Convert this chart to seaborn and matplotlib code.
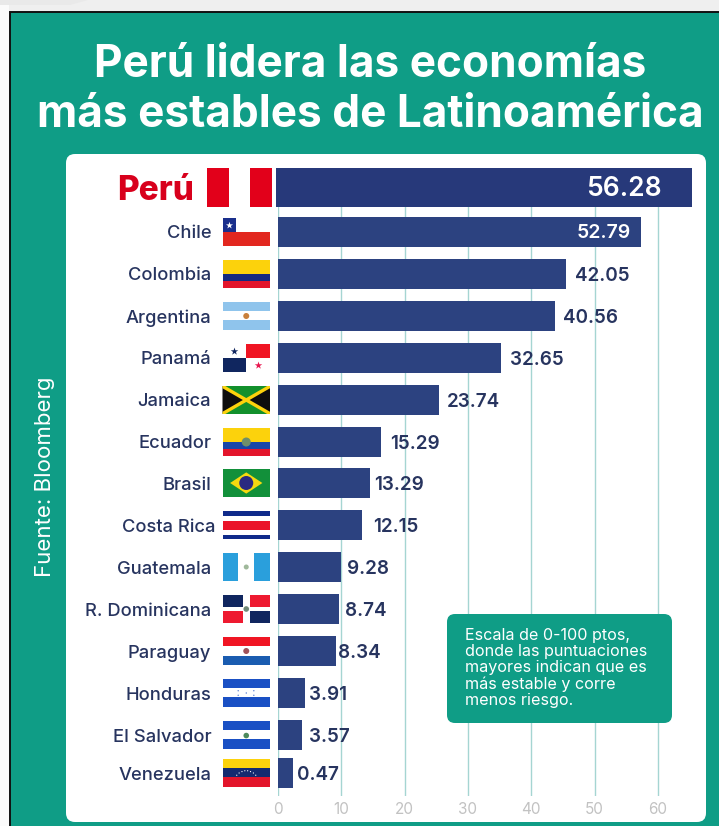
import matplotlib
matplotlib.use("Agg")
import matplotlib.pyplot as plt
import matplotlib.transforms as mtrans
from matplotlib.patches import Rectangle, Polygon, Circle, FancyBboxPatch
import seaborn as sns

countries = ["Perú", "Chile", "Colombia", "Argentina", "Panamá", "Jamaica", "Ecuador", "Brasil",
             "Costa Rica", "Guatemala", "R. Dominicana", "Paraguay", "Honduras", "El Salvador", "Venezuela"]
# printed scores
scores = ["56.28", "52.79", "42.05", "40.56", "32.65", "23.74", "15.29", "13.29",
          "12.15", "9.28", "8.74", "8.34", "3.91", "3.57", "0.47"]
# the bars are longer than the printed score, this is what they read on the axis
bar_lengths = [65.4, 57.3, 45.5, 43.8, 35.2, 25.4, 16.3, 14.5, 13.3, 10.0, 9.6, 9.2, 4.3, 3.8, 2.4]
x_ticks = [0, 10, 20, 30, 40, 50, 60]

TEAL = "#0f9d86"
NAVY = "#2c4280"
TEXT = "#27345f"
FONT = "Inter"

# layout in pixels
W, H = 719, 826
row_px = [187.5, 232, 274, 316, 358, 400, 442, 483, 525, 567, 609, 651, 693, 735, 773]
label_pad = [0, 0, 9, 8, 9, 8, 9, 4, 11, 6, 6, 2, 4, 7, 4]
axes_left, axes_right, axes_top, axes_bottom = 278, 700, 168, 796
px_per_unit = 6.33

fig = plt.figure(figsize=(W / 100, H / 100), dpi=100, facecolor="#efefef")

# pixel canvas for the frame, panel, flags and notes
bg = fig.add_axes([0, 0, 1, 1], zorder=0)
bg.set_xlim(0, W)
bg.set_ylim(H, 0)
bg.axis("off")
bg.add_patch(Polygon([(0, 5), (70, 5), (88, 0), (0, 0)], color="#e9e9e9", lw=0))
bg.add_patch(Rectangle((0, 5), 9, H, color="#fbfbfb", lw=0))
bg.add_patch(Rectangle((10, 12), W, H, facecolor=TEAL, edgecolor="#111111", lw=1.4))
bg.add_patch(FancyBboxPatch((74, 162), 624, 652, boxstyle="round,pad=8,rounding_size=9",
                            facecolor="white", edgecolor="none"))

bg.text(370, 65, "Perú lidera las economías", color="white", fontsize=31.8, fontweight="bold",
        family=FONT, ha="center", va="center")
bg.text(370, 115, "más estables de Latinoamérica", color="white", fontsize=31.8, fontweight="bold",
        family=FONT, ha="center", va="center")
bg.text(45, 477, "Fuente: Bloomberg", color="white", fontsize=16, family=FONT,
        rotation=90, ha="center", va="center")

# chart
ax = fig.add_axes([axes_left / W, 1 - axes_bottom / H,
                   (axes_right - axes_left) / W, (axes_bottom - axes_top) / H], zorder=1)
ax.patch.set_alpha(0)
sns.barplot(x=bar_lengths, y=countries, orient="y", color=NAVY, saturation=1, width=0.716, ax=ax)

row_step = (row_px[-2] - row_px[1]) / 12
row_pos = [1 + (p - row_px[1]) / row_step for p in row_px]
ax.set_xlim(0, (axes_right - axes_left) / px_per_unit)
ax.set_ylim(1 + (axes_bottom - row_px[1]) / row_step, 1 + (axes_top - row_px[1]) / row_step)

for bar, pos in zip(ax.patches, row_pos):
    bar.set_y(pos - bar.get_height() / 2)
    bar.set_clip_on(False)
peru_bar = ax.patches[0]
peru_bar.set_height(39 / row_step)
peru_bar.set_y(row_pos[0] - peru_bar.get_height() / 2)
peru_bar.set_x(-2 / px_per_unit)
peru_bar.set_width(bar_lengths[0] + 2 / px_per_unit)
peru_bar.set_facecolor("#27397a")

ax.set_xticks(x_ticks)
ax.set_yticks(row_pos, labels=countries)
ax.set_xlabel("")
ax.set_ylabel("")
ax.grid(axis="x", color="#a5d5d2", lw=1)
ax.grid(axis="y", visible=False)
ax.set_axisbelow(True)
sns.despine(ax=ax, left=True, bottom=True)
ax.tick_params(axis="x", length=0, pad=4, labelcolor="#c2c2c2", labelsize=11)
ax.tick_params(axis="y", length=0, pad=48, labelcolor=TEXT, labelsize=13.2)
for t in ax.get_xticklabels():
    t.set_family(FONT)
for t in ax.get_yticklabels():
    t.set_family(FONT)
    t.set_fontweight("medium")
    shift = 0
    if t.get_text() == "Perú":
        t.set_color("#d8001c")
        t.set_fontsize(24)
        t.set_fontweight("heavy")
        shift = -17
    elif t.get_text() == "Costa Rica":
        shift = 4
    t.set_transform(t.get_transform() + mtrans.Affine2D().translate(shift, 0))

for i, (length, score) in enumerate(zip(bar_lengths, scores)):
    if i == 0:
        ax.annotate(score, (60.66, row_pos[i]), xytext=(0, -1), textcoords="offset points", color="white",
                    fontsize=19, fontweight="semibold", family=FONT, ha="right", va="center")
    elif i == 1:
        ax.annotate(score, (55.8, row_pos[i]), xytext=(0, -1), textcoords="offset points", color="white",
                    fontsize=14, fontweight="semibold", family=FONT, ha="right", va="center")
    else:
        ax.annotate(score, (length, row_pos[i]), xytext=(label_pad[i] * 0.72, -1.2), textcoords="offset points",
                    color=TEXT, fontsize=13.6, fontweight="semibold", family=FONT, va="center")

# top layer for the flags and the note
fg = fig.add_axes([0, 0, 1, 1], zorder=2)
fg.set_xlim(0, W)
fg.set_ylim(H, 0)
fg.axis("off")


def flag_rects(cy, rects, left=222.5, w=47.5, h=28):
    top = cy - h / 2
    for u0, v0, u1, v1, c in rects:
        fg.add_patch(Rectangle((left + u0 * w, top + v0 * h), (u1 - u0) * w, (v1 - v0) * h, color=c, lw=0))


def flag_poly(cy, pts, c, left=222.5, w=47.5, h=28):
    top = cy - h / 2
    fg.add_patch(Polygon([(left + u * w, top + v * h) for u, v in pts], color=c, lw=0))


def flag_dot(cy, u, v, r, c, left=222.5, w=47.5, h=28):
    fg.add_patch(Circle((left + u * w, cy - h / 2 + v * h), r, color=c, lw=0))


def flag_star(cy, u, v, s, c, left=222.5, w=47.5, h=28):
    fg.scatter([left + u * w], [cy - h / 2 + v * h], marker="*", s=s, color=c, lw=0)


RED = "#e3152b"
BLUE = "#0b3fa8"
DARK = "#10265f"
YELLOW = "#fcd20c"

r = dict(zip(countries, row_px))
flag_rects(r["Perú"], [(0, 0, 1 / 3, 1, "#e2001a"), (2 / 3, 0, 1, 1, "#e2001a")], left=207, w=65, h=39)
flag_rects(r["Chile"], [(0, 0, 0.29, 0.5, "#1a2f8c"), (0, 0.5, 1, 1, "#e2271f")])
flag_star(r["Chile"], 0.14, 0.25, 28, "white")
flag_rects(r["Colombia"], [(0, 0, 1, 0.5, YELLOW), (0, 0.5, 1, 0.75, "#142a80"), (0, 0.75, 1, 1, RED)])
flag_rects(r["Argentina"], [(0, 0, 1, 0.32, "#8fc4ec"), (0, 0.66, 1, 1, "#8fc4ec")])
flag_dot(r["Argentina"], 0.5, 0.5, 3, "#c9803c")
flag_rects(r["Panamá"], [(0.5, 0, 1, 0.5, "#f01523"), (0, 0.5, 0.5, 1, DARK)])
flag_star(r["Panamá"], 0.25, 0.25, 32, DARK)
flag_star(r["Panamá"], 0.75, 0.75, 32, "#e8174f")
flag_rects(r["Jamaica"], [(0, 0, 1, 1, "#12902c")])
flag_poly(r["Jamaica"], [(0, 0), (0.5, 0.5), (0, 1)], "#0d0d0d")
flag_poly(r["Jamaica"], [(1, 0), (0.5, 0.5), (1, 1)], "#0d0d0d")
flag_poly(r["Jamaica"], [(0, 0), (0.06, 0), (1, 0.92), (1, 1), (0.94, 1), (0, 0.08)], YELLOW)
flag_poly(r["Jamaica"], [(1, 0), (0.94, 0), (0, 0.92), (0, 1), (0.06, 1), (1, 0.08)], YELLOW)
flag_rects(r["Ecuador"], [(0, 0, 1, 0.5, YELLOW), (0, 0.5, 1, 0.75, "#1746a8"), (0, 0.75, 1, 1, RED)])
flag_dot(r["Ecuador"], 0.5, 0.5, 4.5, "#6f8f6a")
flag_rects(r["Brasil"], [(0, 0, 1, 1, "#12903a")])
flag_poly(r["Brasil"], [(0.16, 0.5), (0.5, 0.12), (0.84, 0.5), (0.5, 0.88)], "#f5d90f")
flag_dot(r["Brasil"], 0.5, 0.5, 7, "#2a2a80")
flag_rects(r["Costa Rica"], [(0, 0, 1, 0.17, "#0f2a8a"), (0, 0.35, 1, 0.68, "#ea1429"), (0, 0.84, 1, 1, "#0f2a8a")])
flag_rects(r["Guatemala"], [(0, 0, 0.33, 1, "#2a9fdc"), (0.67, 0, 1, 1, "#2a9fdc")])
flag_dot(r["Guatemala"], 0.5, 0.5, 2.5, "#9fb89a")
flag_rects(r["R. Dominicana"], [(0, 0, 0.43, 0.42, DARK), (0.57, 0, 1, 0.42, "#ee1a30"),
                                (0, 0.58, 0.43, 1, "#ee1a30"), (0.57, 0.58, 1, 1, DARK)])
flag_dot(r["R. Dominicana"], 0.5, 0.5, 2.8, "#6f8a78")
flag_rects(r["Paraguay"], [(0, 0, 1, 0.32, "#f01523"), (0, 0.68, 1, 1, "#1a5cb0")])
flag_dot(r["Paraguay"], 0.5, 0.5, 3, "#a0525a")
flag_rects(r["Honduras"], [(0, 0, 1, 0.32, "#1a50c4"), (0, 0.66, 1, 1, "#1a50c4")])
for u, v in [(0.33, 0.42), (0.33, 0.58), (0.5, 0.5), (0.66, 0.42), (0.66, 0.58)]:
    flag_dot(r["Honduras"], u, v, 0.6, "#1a50c4")
flag_rects(r["El Salvador"], [(0, 0, 1, 0.32, "#1a50c4"), (0, 0.66, 1, 1, "#1a50c4")])
flag_dot(r["El Salvador"], 0.5, 0.52, 2.8, "#4d8a5c")
flag_rects(r["Venezuela"], [(0, 0, 1, 0.32, YELLOW), (0, 0.32, 1, 0.66, "#142a70"), (0, 0.66, 1, 1, "#e3152b")])
for u, v in [(0.3, 0.58), (0.35, 0.5), (0.41, 0.45), (0.47, 0.42), (0.53, 0.42), (0.59, 0.45), (0.65, 0.5), (0.7, 0.58)]:
    flag_dot(r["Venezuela"], u, v, 0.6, "white")

# note box
fg.add_patch(FancyBboxPatch((455, 622), 209, 93, boxstyle="round,pad=8,rounding_size=8",
                            facecolor=TEAL, edgecolor="none"))
fg.text(465, 668, "Escala de 0-100 ptos,\ndonde las puntuaciones\nmayores indican que es\nmás estable y corre\nmenos riesgo.",
        color="white", fontsize=11.6, family=FONT, ha="left", va="center", linespacing=1.1)

fig.savefig("out.png", dpi=100, facecolor=fig.get_facecolor())
